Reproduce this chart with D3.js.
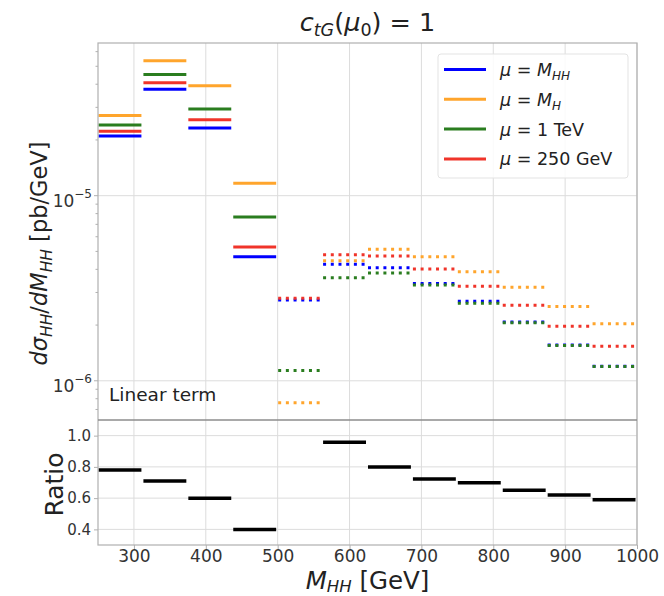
<!DOCTYPE html>
<html>
<head>
<meta charset="utf-8">
<script src="https://cdn.jsdelivr.net/npm/d3@7"></script>
<style>
  body { margin: 0; background: #fff; }
  svg text { font-family: "DejaVu Sans", sans-serif; }
</style>
</head>
<body>
<svg id="chart" width="664" height="596"></svg>
<script>
// bins in M_HH (GeV)
const binEdges = [250, 312.5, 375, 437.5, 500, 562.5, 625, 687.5, 750, 812.5, 875, 937.5, 1000];
// bins drawn solid (first four) or dotted (rest)
const solidBins = 4;

// dsigma/dM_HH [pb/GeV] per bin
const muMHH  = [2.10e-5, 3.76e-5, 2.32e-5, 4.68e-6, 2.73e-6, 4.26e-6, 4.08e-6, 3.35e-6, 2.69e-6, 2.08e-6, 1.56e-6, 1.20e-6];
const muMH   = [2.71e-5, 5.35e-5, 3.93e-5, 1.167e-5, 7.60e-7, 4.45e-6, 5.13e-6, 4.68e-6, 3.88e-6, 3.20e-6, 2.52e-6, 2.03e-6];
const mu1TeV = [2.41e-5, 4.51e-5, 2.94e-5, 7.67e-6, 1.138e-6, 3.60e-6, 3.82e-6, 3.29e-6, 2.62e-6, 2.06e-6, 1.55e-6, 1.196e-6];
const mu250  = [2.23e-5, 4.07e-5, 2.57e-5, 5.28e-6, 2.79e-6, 4.80e-6, 4.72e-6, 4.02e-6, 3.24e-6, 2.56e-6, 1.97e-6, 1.535e-6];

// ratio panel (mu=M_HH over mu=M_H); bin 5 is off the scale
const ratio = [0.78, 0.71, 0.60, 0.40, 3.6, 0.958, 0.80, 0.723, 0.698, 0.65, 0.62, 0.59];

const xTicks = [300, 400, 500, 600, 700, 800, 900, 1000];
const ratioTicks = [0.4, 0.6, 0.8, 1.0];

const series = [
  { label: "mhh",  values: muMHH,  color: "#0000ff" },
  { label: "mh",   values: muMH,   color: "#ffa52c" },
  { label: "1tev", values: mu1TeV, color: "#2a7d1f" },
  { label: "250",  values: mu250,  color: "#f0342a" }
];

const svg = d3.select("#chart");

const pLeft = 98, pRight = 637, pTop = 43, pMid = 420, pBottom = 545;

const x = d3.scaleLinear().domain([250, 1000]).range([pLeft, pRight]);
const y = d3.scaleLog().domain([6.14e-7, 6.68e-5]).range([pMid, pTop]);
const yr = d3.scaleLinear().domain([0.3, 1.1]).range([pBottom, pMid]);

const gridColor = "#dcdcdc";
const spineColor = "#b0b0b0";

// clip paths for the two panels
const defs = svg.append("defs");
defs.append("clipPath").attr("id", "clipMain")
  .append("rect").attr("x", pLeft).attr("y", pTop).attr("width", pRight - pLeft).attr("height", pMid - pTop);
defs.append("clipPath").attr("id", "clipRatio")
  .append("rect").attr("x", pLeft).attr("y", pMid).attr("width", pRight - pLeft).attr("height", pBottom - pMid);

// grid
const grid = svg.append("g");
xTicks.forEach(t => {
  grid.append("line").attr("x1", x(t)).attr("x2", x(t)).attr("y1", pTop).attr("y2", pBottom)
    .attr("stroke", gridColor).attr("stroke-width", 1);
});
[1e-5, 1e-6].forEach(t => {
  grid.append("line").attr("x1", pLeft).attr("x2", pRight).attr("y1", y(t)).attr("y2", y(t))
    .attr("stroke", gridColor).attr("stroke-width", 1);
});
ratioTicks.forEach(t => {
  grid.append("line").attr("x1", pLeft).attr("x2", pRight).attr("y1", yr(t)).attr("y2", yr(t))
    .attr("stroke", gridColor).attr("stroke-width", 1);
});

// main panel bars
const main = svg.append("g").attr("clip-path", "url(#clipMain)");
series.forEach(s => {
  main.selectAll(null)
    .data(s.values.map((v, i) => ({ v, i })))
    .enter().append("line")
    .attr("x1", d => x(binEdges[d.i]) + 0.5)
    .attr("x2", d => x(binEdges[d.i + 1]) - 1.5)
    .attr("y1", d => y(d.v))
    .attr("y2", d => y(d.v))
    .attr("stroke", s.color)
    .attr("stroke-width", 3)
    .attr("stroke-dasharray", d => d.i < solidBins ? null : "3,4.7");
});

// ratio panel bars
const rp = svg.append("g").attr("clip-path", "url(#clipRatio)");
rp.selectAll(null)
  .data(ratio.map((v, i) => ({ v, i })))
  .enter().append("line")
  .attr("x1", d => x(binEdges[d.i]) + 0.5)
  .attr("x2", d => x(binEdges[d.i + 1]) - 1.5)
  .attr("y1", d => yr(d.v))
  .attr("y2", d => yr(d.v))
  .attr("stroke", "#000")
  .attr("stroke-width", 3.5);

// spines
const sp = svg.append("g").attr("fill", "none");
sp.append("rect").attr("x", pLeft).attr("y", pTop).attr("width", pRight - pLeft).attr("height", pBottom - pTop)
  .attr("stroke", spineColor).attr("stroke-width", 1.2);
sp.append("line").attr("x1", pLeft).attr("x2", pRight).attr("y1", pMid).attr("y2", pMid)
  .attr("stroke", "#8c8c8c").attr("stroke-width", 1.5);

// axes
const tickStyle = size => g => {
  g.select(".domain").remove();
  g.selectAll(".tick line").attr("stroke", spineColor);
  g.selectAll(".tick text").attr("fill", "#333").attr("font-size", size)
    .attr("font-family", "DejaVu Sans, sans-serif");
};

svg.append("g").attr("transform", `translate(0,${pBottom})`)
  .call(d3.axisBottom(x).tickValues(xTicks).tickFormat(d3.format("d")).tickSize(4).tickPadding(1))
  .call(tickStyle(17));

svg.append("g").attr("transform", `translate(${pLeft},0)`)
  .call(d3.axisLeft(yr).tickValues(ratioTicks).tickFormat(d3.format(".1f")).tickSize(4).tickPadding(3))
  .call(tickStyle(15));

// log axis: minor ticks and major labels
const minor = y.ticks().filter(t => t >= y.domain()[0] && t <= y.domain()[1]);
const ly = svg.append("g");
minor.forEach(t => {
  const major = Math.abs(Math.log10(t) - Math.round(Math.log10(t))) < 1e-6;
  ly.append("line").attr("x1", pLeft).attr("x2", pLeft - (major ? 4 : 2.5))
    .attr("y1", y(t)).attr("y2", y(t)).attr("stroke", spineColor);
});
[-5, -6].forEach(p => {
  const t = ly.append("text").attr("x", pLeft - 6).attr("y", y(Math.pow(10, p)) + 11)
    .attr("text-anchor", "end").attr("font-size", 17).attr("fill", "#333");
  t.append("tspan").text("10");
  t.append("tspan").attr("dy", -9).attr("font-size", 12).text("\u2212" + (-p));
});

// title
const title = svg.append("text").attr("x", (pLeft + pRight) / 2).attr("y", 31)
  .attr("text-anchor", "middle").attr("font-size", 25.5).attr("fill", "#222");
title.append("tspan").attr("font-style", "italic").text("c");
title.append("tspan").attr("font-style", "italic").attr("font-size", 17.5).attr("dy", 5).text("tG");
title.append("tspan").attr("dy", -5).text("(");
title.append("tspan").attr("font-style", "italic").text("\u03bc");
title.append("tspan").attr("font-size", 17.5).attr("dy", 5).text("0");
title.append("tspan").attr("dy", -5).text(") = 1");

// y label main
const yl = svg.append("text")
  .attr("transform", `translate(47,${(pTop + pMid) / 2 + 22}) rotate(-90)`)
  .attr("text-anchor", "middle").attr("font-size", 22.5).attr("fill", "#222");
yl.append("tspan").attr("font-style", "italic").text("d\u03c3");
yl.append("tspan").attr("font-style", "italic").attr("font-size", 15.5).attr("dy", 5).text("HH");
yl.append("tspan").attr("dy", -5).text("/");
yl.append("tspan").attr("font-style", "italic").text("dM");
yl.append("tspan").attr("font-style", "italic").attr("font-size", 15.5).attr("dy", 5).text("HH");
yl.append("tspan").attr("dy", -5).text(" [pb/GeV]");

// y label ratio
svg.append("text")
  .attr("transform", `translate(63,${(pMid + pBottom) / 2 + 2}) rotate(-90)`)
  .attr("text-anchor", "middle").attr("font-size", 25).attr("fill", "#222").text("Ratio");

// x label
const xl = svg.append("text").attr("x", (pLeft + pRight) / 2).attr("y", 588.5)
  .attr("text-anchor", "middle").attr("font-size", 24.5).attr("fill", "#222");
xl.append("tspan").attr("font-style", "italic").text("M");
xl.append("tspan").attr("font-style", "italic").attr("font-size", 16.5).attr("dy", 3).text("HH");
xl.append("tspan").attr("dy", -3).text(" [GeV]");

// annotation
svg.append("text").attr("x", 109).attr("y", 401).attr("font-size", 18.5).attr("fill", "#222")
  .text("Linear term");

// legend
const lg = svg.append("g");
lg.append("rect").attr("x", 438).attr("y", 54).attr("width", 190).attr("height", 124).attr("rx", 3)
  .attr("fill", "#fff").attr("fill-opacity", 0.85).attr("stroke", "#e3e3e3");
const legendLabels = [
  [["\u03bc", "i"], [" = ", ""], ["M", "i"], ["HH", "s"]],
  [["\u03bc", "i"], [" = ", ""], ["M", "i"], ["H", "s"]],
  [["\u03bc", "i"], [" = 1 TeV", ""]],
  [["\u03bc", "i"], [" = 250 GeV", ""]]
];
series.forEach((s, i) => {
  const ly0 = 69.5 + i * 29.8;
  lg.append("line").attr("x1", 444).attr("x2", 486).attr("y1", ly0).attr("y2", ly0)
    .attr("stroke", s.color).attr("stroke-width", 3);
  const t = lg.append("text").attr("x", 500).attr("y", ly0 + 6.5).attr("font-size", 17.5).attr("fill", "#222");
  legendLabels[i].forEach(([str, kind]) => {
    const tsp = t.append("tspan").text(str);
    if (kind === "i" || kind === "s") tsp.attr("font-style", "italic");
    if (kind === "s") tsp.attr("font-size", 12).attr("dy", 4);
  });
});
</script>
</body>
</html>
